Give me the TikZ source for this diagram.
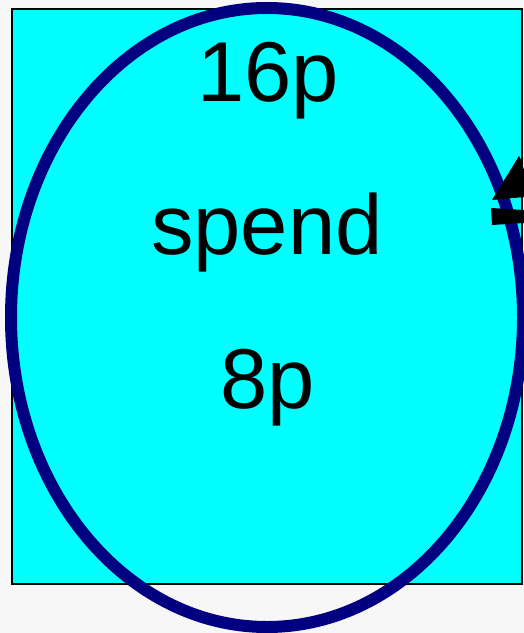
\documentclass[tikz,border=0pt]{standalone}
\usepackage{fontspec}
\setmainfont{Liberation Sans}
\definecolor{bggray}{RGB}{247,247,247}
\definecolor{cyanfill}{RGB}{0,255,255}
\definecolor{navyline}{RGB}{0,0,128}
\tikzset{
  lbl/.style={anchor=base, inner sep=0pt, font=\fontsize{85bp}{100bp}\selectfont, text=black},
  panel/.style={fill=cyanfill, draw=black, line width=1.6bp},
  ring/.style={draw=navyline, line width=12bp},
  tip/.style={fill=black, draw=none}
}
\begin{document}
\begin{tikzpicture}[x=1bp, y=-1bp]
  \fill[bggray] (0,0) rectangle (524,633);
  \useasboundingbox (0,0) rectangle (524,633);
  \draw[panel] (12,9) rectangle (522,584);
  \coordinate (c) at (267,317.5);
  \draw[ring] (c) ellipse [x radius=256, y radius=309.5];
  \node[lbl] (top) at (268,102) {16p};
  \node[lbl] (mid) at (267,254) {spend};
  \node[lbl] (bot) at (268,408) {8p};
  \fill[tip] (492,200) -- (519,156) -- (521,160) -- (524,170) -- (524,197) -- cycle;
  \fill[tip] (491,208) -- (524,210) -- (524,223) -- (492,225) -- cycle;
\end{tikzpicture}
\end{document}
